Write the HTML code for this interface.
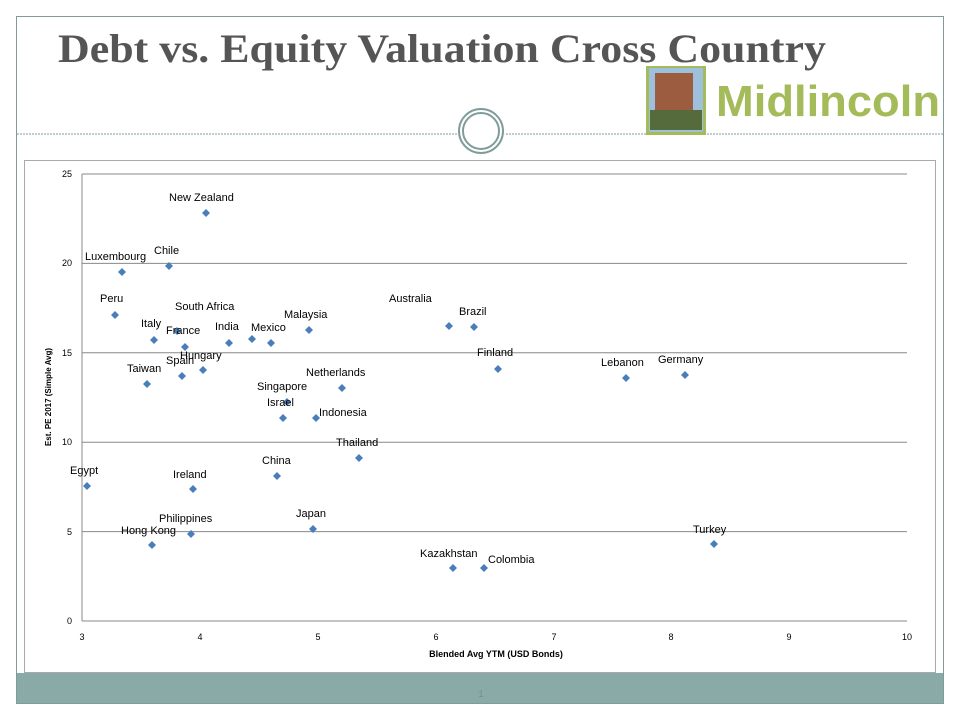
<!DOCTYPE html>
<html><head><meta charset="utf-8"><style>
body{margin:0;width:960px;height:720px;background:#fff;overflow:hidden;font-family:"Liberation Sans",sans-serif}
</style></head><body>
<svg width="960" height="720" viewBox="0 0 960 720" xmlns="http://www.w3.org/2000/svg">
<rect x="16.5" y="16.5" width="927" height="687" fill="#fff" stroke="#7f9c9a" stroke-width="1"/>
<rect x="17" y="673" width="926" height="30" fill="#8aaaa8"/>
<text x="481" y="697" font-size="9" fill="#6f8f8d" text-anchor="middle">1</text>
<text x="58" y="62" font-family="Liberation Serif,serif" font-weight="bold" font-size="40" fill="#555" textLength="768" lengthAdjust="spacingAndGlyphs">Debt vs. Equity Valuation Cross Country</text>
<line x1="17" y1="134" x2="943" y2="134" stroke="#7f9c9a" stroke-dasharray="2,1"/>
<circle cx="481" cy="131" r="24" fill="#fff"/>
<circle cx="481" cy="131" r="22" fill="none" stroke="#7f9c9a" stroke-width="2"/>
<circle cx="481" cy="131" r="18" fill="none" stroke="#7f9c9a" stroke-width="2"/>
<rect x="646" y="66" width="60" height="69" fill="#a4bb5a"/>
<rect x="649" y="68" width="54" height="64" fill="#9fc0dd"/>
<rect x="655" y="73" width="38" height="56" fill="#9b5c40"/>
<rect x="650" y="110" width="52" height="20" fill="#556b3c"/>
<text x="716" y="116" font-size="44" font-weight="bold" fill="#a4bb5a" textLength="224" lengthAdjust="spacingAndGlyphs">Midlincoln</text>
<rect x="24.5" y="160.5" width="911" height="512" fill="#fff" stroke="#aaa"/>
<g stroke="#888" stroke-width="1">
<line x1="82" y1="174" x2="907" y2="174"/><line x1="82" y1="263.4" x2="907" y2="263.4"/><line x1="82" y1="352.8" x2="907" y2="352.8"/><line x1="82" y1="442.2" x2="907" y2="442.2"/><line x1="82" y1="531.6" x2="907" y2="531.6"/><line x1="82" y1="621" x2="907" y2="621"/>
<line x1="82" y1="174" x2="82" y2="621"/>
</g>
<g font-size="9" fill="#000" text-anchor="end">
<text x="72" y="177">25</text><text x="72" y="266">20</text><text x="72" y="356">15</text><text x="72" y="445">10</text><text x="72" y="535">5</text><text x="72" y="624">0</text>
</g>
<g font-size="9" fill="#000" text-anchor="middle">
<text x="82" y="640">3</text><text x="200" y="640">4</text><text x="318" y="640">5</text><text x="436" y="640">6</text><text x="554" y="640">7</text><text x="671" y="640">8</text><text x="789" y="640">9</text><text x="907" y="640">10</text>
<text x="496" y="657" font-weight="bold">Blended Avg YTM (USD Bonds)</text>
</g>
<text transform="translate(51,397) rotate(-90)" font-size="8" font-weight="bold" text-anchor="middle">Est. PE 2017 (Simple Avg)</text>
<g fill="#4a7ebb">
<path d="M206 209l4 4-4 4-4-4z"/><path d="M169 262l4 4-4 4-4-4z"/><path d="M122 268l4 4-4 4-4-4z"/>
<path d="M115 311l4 4-4 4-4-4z"/><path d="M154 336l4 4-4 4-4-4z"/><path d="M177 327l4 4-4 4-4-4z"/>
<path d="M185 343l4 4-4 4-4-4z"/><path d="M229 339l4 4-4 4-4-4z"/><path d="M252 335l4 4-4 4-4-4z"/>
<path d="M271 339l4 4-4 4-4-4z"/><path d="M309 326l4 4-4 4-4-4z"/><path d="M449 322l4 4-4 4-4-4z"/>
<path d="M474 323l4 4-4 4-4-4z"/><path d="M498 365l4 4-4 4-4-4z"/><path d="M626 374l4 4-4 4-4-4z"/>
<path d="M685 371l4 4-4 4-4-4z"/><path d="M147 380l4 4-4 4-4-4z"/><path d="M182 372l4 4-4 4-4-4z"/>
<path d="M203 366l4 4-4 4-4-4z"/><path d="M342 384l4 4-4 4-4-4z"/><path d="M287 398l4 4-4 4-4-4z"/>
<path d="M283 414l4 4-4 4-4-4z"/><path d="M316 414l4 4-4 4-4-4z"/><path d="M359 454l4 4-4 4-4-4z"/>
<path d="M87 482l4 4-4 4-4-4z"/><path d="M193 485l4 4-4 4-4-4z"/><path d="M277 472l4 4-4 4-4-4z"/>
<path d="M313 525l4 4-4 4-4-4z"/><path d="M191 530l4 4-4 4-4-4z"/><path d="M152 541l4 4-4 4-4-4z"/>
<path d="M714 540l4 4-4 4-4-4z"/><path d="M453 564l4 4-4 4-4-4z"/><path d="M484 564l4 4-4 4-4-4z"/>
</g>
<g font-size="11" fill="#000">
<text x="169" y="201">New Zealand</text><text x="154" y="254">Chile</text><text x="85" y="260">Luxembourg</text>
<text x="100" y="302">Peru</text><text x="175" y="310">South Africa</text><text x="141" y="327">Italy</text>
<text x="166" y="334">France</text><text x="215" y="330">India</text><text x="251" y="331">Mexico</text>
<text x="284" y="318">Malaysia</text><text x="389" y="302">Australia</text><text x="459" y="315">Brazil</text>
<text x="477" y="356">Finland</text><text x="601" y="366">Lebanon</text><text x="658" y="363">Germany</text>
<text x="127" y="372">Taiwan</text><text x="166" y="364">Spain</text><text x="180" y="359">Hungary</text>
<text x="306" y="376">Netherlands</text><text x="257" y="390">Singapore</text><text x="267" y="406">Israel</text>
<text x="319" y="416">Indonesia</text><text x="336" y="446">Thailand</text><text x="70" y="474">Egypt</text>
<text x="173" y="478">Ireland</text><text x="262" y="464">China</text><text x="296" y="517">Japan</text>
<text x="159" y="522">Philippines</text><text x="121" y="534">Hong Kong</text><text x="693" y="533">Turkey</text>
<text x="420" y="557">Kazakhstan</text><text x="488" y="563">Colombia</text>
</g>
</svg>
</body></html>
